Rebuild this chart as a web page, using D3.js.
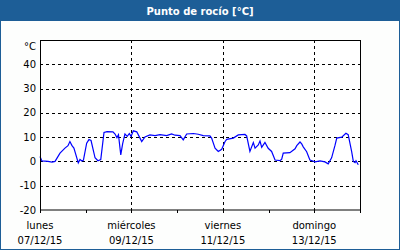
<!DOCTYPE html>
<html lang="es">
<head>
<meta charset="utf-8">
<script src="https://cdn.jsdelivr.net/npm/d3@7"></script>
<style>
    body { margin: 0; background: #fff; }
    svg { display: block; font-family: "DejaVu Sans", Verdana, sans-serif; }
</style>
</head>
<body>
<div id="chart"></div>
<script>
    // hours since 07/12/15 00:00 and dew point readings (°C)
    const hours = [0, 1, 4.2, 6.3, 7.9, 10.5, 13.1, 14.7, 15.7, 16.8, 17.8, 20.1, 21, 22, 22.8, 24.5, 25.7, 26.8,
        28.9, 30.4, 31.9, 33.6, 35.2, 38.3, 39.4, 40.4, 41.2, 42.4, 43.4, 44.6, 45.8, 46.9, 47.8, 49, 50.8,
        52.5, 53.4, 55.1, 57.7, 60.4, 63, 66.5, 69.1, 70.9, 73.5, 75.2, 77, 80.5, 83.1, 85.7, 89.2, 90.1,
        91.9, 93.6, 95.4, 97.1, 98, 101.5, 104.1, 107.6, 108.5, 110.2, 112, 112.9, 114.6, 115.5, 116.4,
        118.1, 119.8, 121.6, 123.4, 126, 126.9, 127.7, 131.2, 133.9, 134.8, 136.5, 137.4, 138.2, 140,
        141.7, 144.4, 147, 149.6, 151.3, 153.1, 154.9, 155.8, 158.4, 160.6, 161.8, 163.6, 164.5, 165.4,
        165.9, 167.1];
    const values = [2.0, 0.2, 0, -0.3, 0, 3.4, 5.5, 6.5, 8.2, 6.5, 5.5, -0.6, 0.8, 0.2, 0.5, 7.5, 9.0, 8.6,
        1.5, 0.3, 0.8, 11.9, 12.3, 12.2, 11.3, 9.8, 11, 2.7, 7.3, 11.3, 10.3, 11.5, 10.3, 12.6, 12.2,
        9.6, 8.2, 10.1, 10.9, 10.6, 11, 10.6, 11.3, 10.8, 10.6, 8.9, 11.3, 11.5, 11.2, 10.6, 10.5, 9.6,
        5.5, 4.1, 5, 8.1, 9.1, 9.6, 10.9, 11.1, 10.5, 4.1, 7.8, 5.5, 6.8, 8.4, 5.8,
        7.8, 5.4, 4.1, 0.6, 0.3, 0.9, 3.4, 3.6, 5.2, 6.5, 8, 7.2, 6, 4,
        0.6, -0.2, 0.2, -0.2, -1, 1.5, 6.7, 9.6, 10, 11.6, 11, 4.1, 0, -0.5,
        0.3, -1.4];
    const yTicks = [-20, -10, 0, 10, 20, 30, 40];
    const dayLabels = ['lunes', 'miércoles', 'viernes', 'domingo'];
    const dateLabels = ['07/12/15', '09/12/15', '11/12/15', '13/12/15'];
    const title = 'Punto de rocío [°C]';

    const width = 400, height = 250;
    const margin = {top: 40, right: 40, bottom: 40, left: 40};
    const start = new Date(2015, 11, 7), end = new Date(2015, 11, 14);
    const data = hours.map((h, i) => ({t: d3.timeHour.offset(start, 0) .getTime() + h * 3600e3, v: values[i]}));

    const x = d3.scaleTime().domain([start, end]).range([margin.left, width - margin.right]);
    const y = d3.scaleLinear().domain([-20, 50]).range([height - margin.bottom, margin.top]);

    const svg = d3.select('#chart').append('svg')
        .attr('width', width).attr('height', height);

    // frame and title bar
    svg.append('rect').attr('x', 0.5).attr('y', 0.5).attr('width', width - 1).attr('height', height - 1)
        .attr('fill', '#fdfefd').attr('stroke', '#1d5e97');
    svg.append('rect').attr('x', 0).attr('y', 0).attr('width', width).attr('height', 21)
        .attr('fill', '#1d5e97');
    svg.append('text').attr('x', width / 2).attr('y', 15).attr('text-anchor', 'middle')
        .attr('fill', '#fff').attr('font-weight', 'bold').attr('font-size', 10).text(title);

    const plotW = width - margin.left - margin.right, plotH = height - margin.top - margin.bottom;
    svg.append('rect').attr('x', margin.left).attr('y', margin.top)
        .attr('width', plotW).attr('height', plotH).attr('fill', '#fff');

    // grid
    svg.append('g').selectAll('line').data(yTicks.filter(d => d > -20)).join('line')
        .attr('x1', margin.left).attr('x2', width - margin.right)
        .attr('y1', d => Math.round(y(d)) + 0.5).attr('y2', d => Math.round(y(d)) + 0.5)
        .attr('stroke', '#000').attr('stroke-dasharray', '3,3');
    const labelDays = d3.timeDay.range(start, end, 2);
    svg.append('g').selectAll('line').data(labelDays.slice(1)).join('line')
        .attr('x1', d => Math.round(x(d)) + 0.5).attr('x2', d => Math.round(x(d)) + 0.5)
        .attr('y1', margin.top).attr('y2', height - margin.bottom)
        .attr('stroke', '#000').attr('stroke-dasharray', '3,3');

    // series
    const line = d3.line().x(d => x(d.t)).y(d => y(d.v));
    svg.append('path').datum(data).attr('d', line)
        .attr('fill', 'none').attr('stroke', '#0000ff').attr('stroke-width', 1.2);

    // border
    svg.append('rect').attr('x', margin.left + 0.5).attr('y', margin.top + 0.5)
        .attr('width', plotW).attr('height', plotH - 0.5)
        .attr('fill', 'none').attr('stroke', '#000');

    // x ticks
    svg.append('g').selectAll('line').data(d3.timeDay.range(start, d3.timeDay.offset(end, 1))).join('line')
        .attr('x1', d => Math.round(x(d)) + 0.5).attr('x2', d => Math.round(x(d)) + 0.5)
        .attr('y1', height - margin.bottom).attr('y2', height - margin.bottom + 3)
        .attr('stroke', '#000');

    const xl = svg.append('g').attr('font-size', 10).attr('fill', '#000').attr('text-anchor', 'middle');
    xl.selectAll('text.day').data(labelDays).join('text').attr('class', 'day')
        .attr('x', d => x(d)).attr('y', 229).text((d, i) => dayLabels[i]);
    xl.selectAll('text.date').data(labelDays).join('text').attr('class', 'date')
        .attr('x', d => x(d)).attr('y', 244).text((d, i) => dateLabels[i]);

    // y labels
    const yl = svg.append('g').attr('font-size', 10).attr('fill', '#000').attr('text-anchor', 'end');
    yl.selectAll('text').data(yTicks).join('text')
        .attr('x', 36).attr('y', d => y(d) + 3.5).text(d => d);
    yl.append('text').attr('x', 36).attr('y', 49.5).text('°C');
</script>
</body>
</html>
